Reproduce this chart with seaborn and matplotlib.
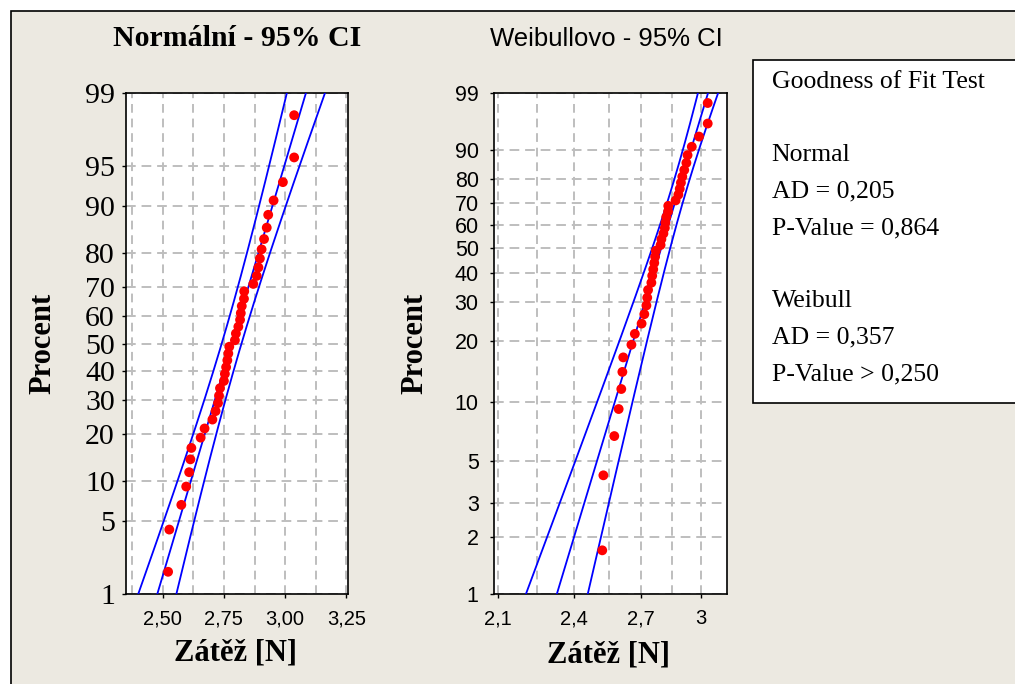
import numpy as np
import pandas as pd
import matplotlib
matplotlib.use("Agg")
import matplotlib.pyplot as plt
from matplotlib.patches import Rectangle
from matplotlib.ticker import FixedLocator, FixedFormatter, NullLocator
import seaborn as sns
from statistics import NormalDist

# ---------------- data ----------------
zatez = [2.522, 2.527, 2.576, 2.596, 2.608, 2.613, 2.617, 2.655, 2.671, 2.703,
         2.716, 2.726, 2.730, 2.734, 2.750, 2.754, 2.759, 2.764, 2.768, 2.772,
         2.795, 2.799, 2.809, 2.816, 2.819, 2.823, 2.832, 2.833, 2.870, 2.884,
         2.891, 2.897, 2.904, 2.914, 2.925, 2.931, 2.953, 2.991, 3.037, 3.037]
procent = [1.7, 4.2, 6.7, 9.2, 11.6, 14.1, 16.6, 19.1, 21.5, 24.0,
           26.5, 29.0, 31.4, 33.9, 36.4, 38.9, 41.3, 43.8, 46.3, 48.8,
           51.2, 53.7, 56.2, 58.7, 61.1, 63.6, 66.1, 68.6, 71.0, 73.5,
           76.0, 78.5, 80.9, 83.4, 85.9, 88.4, 90.8, 93.3, 95.8, 98.3]
n_obs = 40
norm_mu = 2.7815
norm_sigma = 0.1305
weib_shape = 23.0
weib_scale = 2.8435

norm_yticks = [1, 5, 10, 20, 30, 40, 50, 60, 70, 80, 90, 95, 99]
weib_yticks = [1, 2, 3, 5, 10, 20, 30, 40, 50, 60, 70, 80, 90, 99]
norm_xticks = [2.50, 2.75, 3.00, 3.25]
norm_xtick_labels = ["2,50", "2,75", "3,00", "3,25"]
norm_xminor = [2.375, 2.625, 2.875, 3.125]
weib_xticks = [2.1, 2.4, 2.7, 3.0]
weib_xtick_labels = ["2,1", "2,4", "2,7", "3"]
weib_xminor = [2.25, 2.55, 2.85]

title_norm = "Normální - 95% CI"
title_weib = "Weibullovo - 95% CI"
xlabel = "Zátěž [N]"
ylabel = "Procent"
gof_lines = ["Goodness of Fit Test", "", "Normal", "AD = 0,205", "P-Value = 0,864",
             "", "Weibull", "AD = 0,357", "P-Value > 0,250"]

# ---------------- probability scales ----------------
_nd = NormalDist()
_ppf = np.vectorize(_nd.inv_cdf, otypes=[float])
_cdf = np.vectorize(_nd.cdf, otypes=[float])


def norm_fwd(p):
    q = np.clip(np.asarray(p, dtype=float) / 100.0, 1e-9, 1 - 1e-9)
    return _ppf(q)


def norm_inv(z):
    return 100.0 * _cdf(np.asarray(z, dtype=float))


def weib_fwd(p):
    q = np.clip(np.asarray(p, dtype=float) / 100.0, 1e-12, 1 - 1e-12)
    return np.log(-np.log1p(-q))


def weib_inv(w):
    return 100.0 * (-np.expm1(-np.exp(np.asarray(w, dtype=float))))


# fitted lines and 95% confidence bands for percentiles
p_grid = np.linspace(0.9, 99.1, 600)
z = norm_fwd(p_grid)
n_c = norm_mu + norm_sigma * z
n_se = norm_sigma * np.sqrt(1.0 / n_obs + z ** 2 / (2.0 * n_obs))
n_lo, n_hi = n_c - 1.96 * n_se, n_c + 1.96 * n_se

w = weib_fwd(p_grid)
b = 1.0 / weib_shape
lnx = np.log(weib_scale) + b * w
w_se = b / np.sqrt(n_obs) * np.sqrt(1.1087 - 2 * 0.2570 * w + 0.6079 * w ** 2)
w_c, w_lo, w_hi = np.exp(lnx), np.exp(lnx - 1.96 * w_se), np.exp(lnx + 1.96 * w_se)

pts = pd.DataFrame({"Zátěž": zatez, "Procent": procent})

# ---------------- figure ----------------
BG = "#ECE9E1"
GRID = "#BEBEBE"
W, H = 1015, 684
fig = plt.figure(figsize=(W / 100, H / 100), dpi=100, facecolor="white")
frame = Rectangle((10.5 / W, -0.1), 1.2, (H - 11.5) / H + 0.1, transform=fig.transFigure,
                  facecolor=BG, edgecolor="black", linewidth=1.2, zorder=-5)
fig.add_artist(frame)

ax1 = fig.add_axes([126 / W, 90 / H, 222 / W, 501 / H])
ax2 = fig.add_axes([494 / W, 90 / H, 233 / W, 501 / H])

serif = "Liberation Serif"
sans = "Liberation Sans"

for ax, xc, xl, xh in [(ax1, n_c, n_lo, n_hi), (ax2, w_c, w_lo, w_hi)]:
    ax.set_facecolor("white")
    for arr in (xl, xc, xh):
        sns.lineplot(x=arr, y=p_grid, sort=False, estimator=None, color="#0000FF",
                     linewidth=1.3, ax=ax, zorder=3)
    sns.scatterplot(data=pts, x="Zátěž", y="Procent", color="#FF0000", s=50,
                    edgecolor="none", linewidth=0, ax=ax, zorder=4)

ax1.set_yscale("function", functions=(norm_fwd, norm_inv))
ax2.set_yscale("function", functions=(weib_fwd, weib_inv))
ax2.set_xscale("log")

ax1.set_xlim(2.35, 3.257)
ax2.set_xlim(2.084, 3.142)
for ax in (ax1, ax2):
    ax.set_ylim(1, 99)

ax1.yaxis.set_major_locator(FixedLocator(norm_yticks))
ax1.yaxis.set_major_formatter(FixedFormatter([str(t) for t in norm_yticks]))
ax2.yaxis.set_major_locator(FixedLocator(weib_yticks))
ax2.yaxis.set_major_formatter(FixedFormatter([str(t) for t in weib_yticks]))
ax1.xaxis.set_major_locator(FixedLocator(norm_xticks))
ax1.xaxis.set_major_formatter(FixedFormatter(norm_xtick_labels))
ax1.xaxis.set_minor_locator(FixedLocator(norm_xminor))
ax2.xaxis.set_major_locator(FixedLocator(weib_xticks))
ax2.xaxis.set_major_formatter(FixedFormatter(weib_xtick_labels))
ax2.xaxis.set_minor_locator(FixedLocator(weib_xminor))
ax2.xaxis.set_minor_formatter(FixedFormatter([""] * len(weib_xminor)))
for ax in (ax1, ax2):
    ax.yaxis.set_minor_locator(NullLocator())
    ax.set_axisbelow(True)
    ax.grid(True, which="both", axis="x", color=GRID, linestyle=(0, (4.5, 3)), linewidth=1.4)
    ax.grid(True, which="major", axis="y", color=GRID, linestyle=(0, (5, 3)), linewidth=1.4)
    ax.tick_params(which="major", direction="out", length=3, width=1, color="black")
    ax.tick_params(which="minor", length=0)
    for s in ax.spines.values():
        s.set_color("black")
        s.set_linewidth(1.2)
    ax.set_xlabel(xlabel, fontfamily=serif, fontweight="bold", fontsize=22)
    ax.set_ylabel(ylabel, fontfamily=serif, fontweight="bold", fontsize=22)
    ax.xaxis.label.set_va("center")
    ax.yaxis.label.set_va("center")

ax1.tick_params(axis="y", pad=5)
ax2.tick_params(axis="y", pad=8)
ax1.tick_params(axis="x", pad=8)
ax2.tick_params(axis="x", pad=8)
for lab in ax1.get_yticklabels():
    lab.set_fontfamily(serif)
    lab.set_fontsize(21.5)
for lab in ax1.get_xticklabels() + ax2.get_xticklabels():
    lab.set_fontfamily(sans)
    lab.set_fontsize(14.5)
for lab in ax2.get_yticklabels():
    lab.set_fontfamily(sans)
    lab.set_fontsize(15.5)

ax1.xaxis.set_label_coords(0.491, -0.1178)
ax1.yaxis.set_label_coords(-0.374, 0.5)
ax2.xaxis.set_label_coords(0.4914, -0.1218)
ax2.yaxis.set_label_coords(-0.339, 0.5)

ax1.set_title(title_norm, fontfamily=serif, fontweight="bold", fontsize=21.5,
              x=0.4986, y=1.0918, va="center")
ax2.set_title(title_weib, fontfamily=sans, fontsize=18.5, x=0.4837, y=1.0918, va="center")

# goodness of fit box
box = Rectangle((753 / W, 1 - 403 / H), 0.5, (403 - 60) / H, transform=fig.transFigure,
                facecolor="white", edgecolor="black", linewidth=1.2, zorder=1)
fig.add_artist(box)
for i, line in enumerate(gof_lines):
    ypx = 81.7 + i * 36.6
    fig.text(771.7 / W, 1 - ypx / H, line, fontfamily=serif, fontsize=18.5,
             ha="left", va="center", zorder=3)

fig.savefig("out.png", dpi=100, facecolor=fig.get_facecolor())
